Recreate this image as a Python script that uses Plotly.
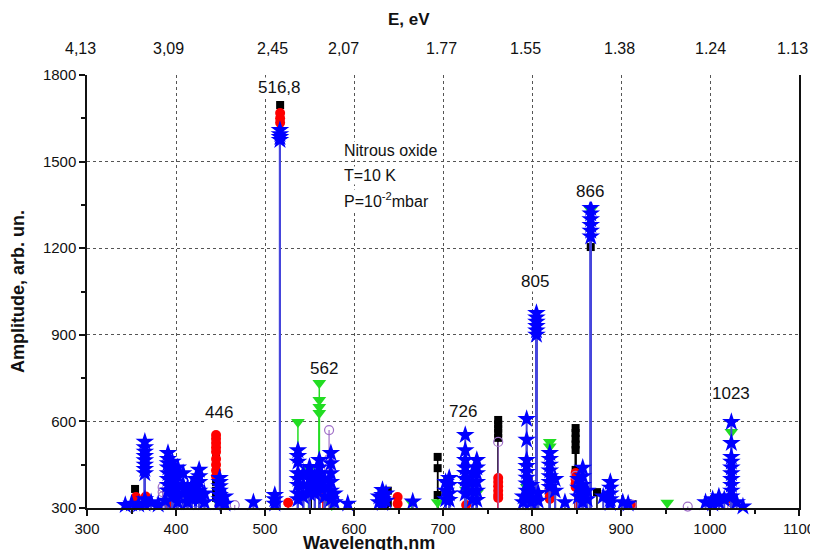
import plotly.graph_objects as go

# ---------------- data ----------------
black_wl  = [354, 445, 445, 445, 445, 445, 445, 445, 517, 550, 552, 574, 638, 638,
             694, 694, 694, 762, 762, 762, 762, 762, 849, 849, 849, 849, 849, 849,
             866, 873, 913]
black_amp = [366, 518, 490, 440, 420, 390, 360, 335, 1696, 373, 360, 335, 360, 318,
             477, 438, 345, 605, 590, 575, 560, 543, 577, 560, 540, 520, 501, 432,
             1204, 355, 313]

red_wl  = [355, 366, 366, 392, 445, 445, 445, 445, 445, 445, 445, 445, 445, 449,
           517, 517, 517, 526, 565, 649, 649, 726, 762, 762, 762, 762, 762, 762,
           820, 820, 820, 820, 849, 849, 849, 849, 912, 1024, 1024]
red_amp = [338, 340, 320, 315, 553, 540, 525, 510, 495, 470, 450, 430, 410, 310,
           1668, 1650, 1635, 318, 335, 338, 315, 310, 404, 390, 375, 360, 345, 335,
           373, 355, 340, 331, 421, 400, 385, 373, 310, 340, 325]

green_wl  = [450, 537, 549, 549, 561, 561, 561, 561, 575, 632, 665, 694, 726, 738,
             794, 820, 820, 866, 952, 1024]
green_amp = [310, 598, 432, 414, 733, 674, 650, 629, 310, 340, 318, 320, 362, 352,
             373, 529, 513, 1332, 318, 563]

purple_wl  = [385, 385, 385, 390, 466, 572, 572, 572, 762, 820, 849, 912, 975, 1020]
purple_amp = [372, 355, 340, 350, 310, 570, 470, 440, 529, 380, 411, 312, 305, 330]

star_wl = ([343, 350, 358] + [365] * 10 + [372, 380, 388] + [391] * 8 + [396] * 5 +
           [402] * 5 + [408] * 3 + [413] * 3 + [418] * 3 + [422] * 3 + [426] * 5 +
           [432] * 2 + [449] * 7 + [455] * 2 + [487] + [511] * 3 + [516.8] * 4 +
           [537] * 8 + [543] * 3 + [550] * 5 + [556] * 3 + [561] * 5 + [567] * 3 +
           [574] * 6 + [578] * 2 + [593] + [628] * 2 + [632] * 4 + [636] * 2 + [666] +
           [703] * 3 + [707] * 4 + [725] * 8 + [733] * 4 + [738] * 6 + [790] * 2 +
           [794] * 9 + [799] * 3 + [805] * 6 + [807] * 2 + [820] * 7 + [826] * 2 +
           [837] + [852] * 3 + [857] * 5 + [862] * 2 + [866] * 6 + [880] +
           [888] * 5 + [902] + [908] + [995] + [1003] * 2 + [1010] * 2 + [1016] +
           [1024] * 10 + [1030] + [1037])
star_amp = ([310, 315, 312] +
            [529, 510, 495, 480, 465, 450, 435, 420, 330, 315] +
            [320, 312, 325] +
            [490, 470, 455, 440, 420, 400, 380, 360] +
            [460, 430, 400, 370, 340] +
            [440, 410, 380, 350, 320] +
            [420, 380, 350] +
            [370, 340, 320] +
            [380, 350, 330] +
            [400, 370, 340] +
            [432, 410, 390, 360, 330] +
            [350, 320] +
            [404, 390, 375, 360, 345, 330, 320] +
            [340, 315] +
            [320] +
            [345, 330, 315] +
            [1609, 1595, 1585, 1575] +
            [500, 480, 460, 420, 400, 380, 350, 330] +
            [420, 380, 340] +
            [442, 420, 400, 380, 350] +
            [410, 380, 350] +
            [466, 440, 420, 400, 373] +
            [400, 370, 340] +
            [490, 455, 420, 390, 360, 330] +
            [350, 320] +
            [315] +
            [340, 320] +
            [362, 345, 330, 317] +
            [350, 325] +
            [322] +
            [390, 360, 330] +
            [404, 380, 350, 328] +
            [553, 500, 466, 440, 421, 400, 380, 350] +
            [420, 390, 360, 330] +
            [466, 440, 420, 390, 360, 328] +
            [340, 320] +
            [608, 536, 466, 445, 425, 405, 385, 360, 335] +
            [380, 350, 320] +
            [975, 960, 945, 930, 915, 900] +
            [352, 325] +
            [490, 470, 450, 430, 410, 390, 373] +
            [400, 360] +
            [320] +
            [400, 370, 340] +
            [439, 410, 380, 350, 320] +
            [360, 330] +
            [1339, 1320, 1300, 1280, 1260, 1240] +
            [340] +
            [390, 370, 350, 330, 317] +
            [320] +
            [315] +
            [320] +
            [330, 315] +
            [340, 320] +
            [330] +
            [598, 525, 477, 460, 440, 420, 400, 380, 360, 340] +
            [320] +
            [305])

peak_labels = ["446", "516,8", "562", "726", "805", "866", "1023"]
peak_label_wl = [448, 516.8, 566, 722, 803, 865, 1024]
peak_label_amp = [632, 1755, 785, 636, 1083, 1395, 698]

energy_labels = ["4,13", "3,09", "2,45", "2,07", "1.77", "1.55", "1.38", "1.24", "1.13"]
energy_label_px = [80, 168, 272, 343, 441, 525, 619, 710, 792]

BASE = 300
FONT = "Arial, Liberation Sans, sans-serif"

# pixel helpers for layout placement (plot area on screen: x 87..799, y 75..508)
def px(p):
    return (p - 87) / 712.0


def py(p):
    return (508 - p) / 433.0


fig = go.Figure()


def stem_trace(wl, amp, color, symbol, size, stem_color, stem_w, line_w=0):
    return go.Scatter(
        x=wl, y=amp, mode="markers",
        marker=dict(symbol=symbol, size=size, color=color,
                    line=dict(width=line_w, color=color)),
        error_y=dict(type="data", symmetric=False, array=[0] * len(amp),
                     arrayminus=[a - BASE for a in amp], width=0,
                     thickness=stem_w, color=stem_color),
        cliponaxis=False, showlegend=False, hoverinfo="x+y")


fig.add_trace(stem_trace(black_wl, black_amp, "#000000", "square", 8, "#000000", 1.5))
fig.add_trace(stem_trace(red_wl, red_amp, "#ff0000", "circle", 10, "#ff0000", 1.5))
fig.add_trace(stem_trace(green_wl, green_amp, "#22dd22", "triangle-down", 12, "#22dd22", 1.5))
fig.add_trace(stem_trace(purple_wl, purple_amp, "#a070c8", "circle-open", 9, "#a070c8", 1.2, line_w=1.2))
fig.add_trace(stem_trace(star_wl, star_amp, "#0000ff", "star", 14, "#4646dc", 2))

annotations = []
for t, x, y in zip(peak_labels, peak_label_wl, peak_label_amp):
    annotations.append(dict(x=x, y=y, xref="x", yref="y", text=t, showarrow=False,
                            xanchor="center", bgcolor="white", borderpad=0,
                            font=dict(family=FONT, size=17, color="#111")))
for t, x in zip(energy_labels, energy_label_px):
    annotations.append(dict(x=px(x), y=py(49), xref="paper", yref="paper", text=t,
                            xanchor="center", yanchor="middle", showarrow=False,
                            font=dict(family=FONT, size=16, color="#111")))
annotations += [
    dict(x=px(409), y=py(19), xref="paper", yref="paper", text="<b>E, eV</b>", showarrow=False,
         xanchor="center", yanchor="middle", font=dict(family=FONT, size=17, color="#111")),
    dict(x=px(369), y=py(531), xref="paper", yref="paper", text="<b>Wavelength,nm</b>",
         showarrow=False, xanchor="center", yanchor="top",
         font=dict(family=FONT, size=18, color="#111")),
    dict(x=px(18), y=py(292), xref="paper", yref="paper", text="<b>Amplitude, arb. un.</b>",
         showarrow=False, textangle=-90, xanchor="center", yanchor="middle",
         font=dict(family=FONT, size=18, color="#111")),
    dict(x=px(343), y=py(150), xref="paper", yref="paper", text="Nitrous oxide",
         showarrow=False, xanchor="left", yanchor="middle", bgcolor="white", borderpad=0,
         font=dict(family=FONT, size=16, color="#111")),
    dict(x=px(343), y=py(175), xref="paper", yref="paper", text="T=10 K",
         showarrow=False, xanchor="left", yanchor="middle", bgcolor="white", borderpad=0,
         font=dict(family=FONT, size=16, color="#111")),
    dict(x=px(343), y=py(200), xref="paper", yref="paper", text="P=10<sup>-2</sup>mbar",
         showarrow=False, xanchor="left", yanchor="middle", bgcolor="white", borderpad=0,
         font=dict(family=FONT, size=16, color="#111")),
]

grid = dict(showgrid=True, gridcolor="#555555", griddash="dot", gridwidth=1)

# the html page body has an 8px margin, so the figure sits 8px right/down on screen
fig.update_layout(
    width=818, height=550,
    margin=dict(l=79, r=27, t=67, b=50),
    paper_bgcolor="white", plot_bgcolor="white",
    font=dict(family=FONT, size=15, color="#111"),
    xaxis=dict(range=[300, 1100], tickmode="array", tickvals=list(range(300, 1101, 100)),
               ticks="outside", ticklen=6, tickwidth=1.5, tickcolor="#111",
               minor=dict(dtick=50, tick0=300, ticklen=4, ticks="outside", tickcolor="#111",
                          showgrid=False),
               showline=True, linecolor="#111", linewidth=1.5, zeroline=False,
               automargin=False, tickfont=dict(size=15), **grid),
    xaxis2=dict(range=[300, 1100], overlaying="x", side="top", anchor="y",
                tickmode="linear", tick0=329.8, dtick=41.8, ticks="inside", ticklen=5,
                tickcolor="#111", tickwidth=1.2, showticklabels=False, showgrid=False,
                showline=True, linecolor="#111", linewidth=1.5, zeroline=False,
                automargin=False),
    yaxis=dict(range=[300, 1800], tickmode="array", tickvals=list(range(300, 1801, 300)),
               ticks="outside", ticklen=6, tickwidth=1.5, tickcolor="#111",
               minor=dict(dtick=150, tick0=300, ticklen=4, ticks="outside", tickcolor="#111",
                          showgrid=False),
               showline=True, linecolor="#111", linewidth=1.5, mirror=True, zeroline=False,
               automargin=False, tickfont=dict(size=15), **grid),
    annotations=annotations,
)

fig.write_html("out.html")
